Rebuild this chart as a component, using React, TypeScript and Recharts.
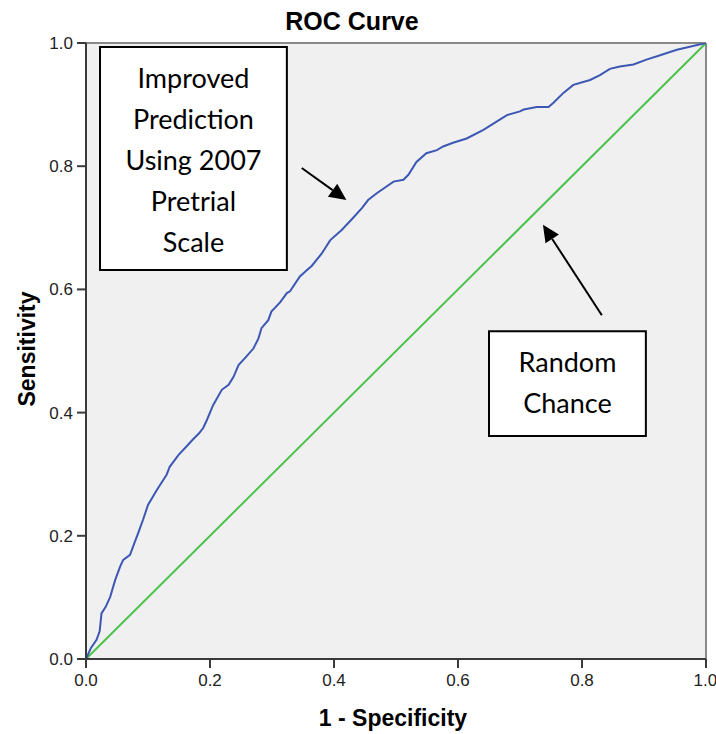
import React from 'react';
import {
  LineChart,
  Line,
  XAxis,
  YAxis,
  CartesianGrid,
  ReferenceArea,
  ReferenceLine,
  Label,
} from 'recharts';

// 1 - Specificity (false positive rate)
const fpr = [
  0, 0.008, 0.017, 0.022, 0.025, 0.032, 0.039, 0.047, 0.055, 0.06, 0.071, 0.078, 0.084, 0.092,
  0.1, 0.114, 0.13, 0.135, 0.149, 0.162, 0.172, 0.182, 0.189, 0.195, 0.205, 0.219, 0.23, 0.238,
  0.246, 0.256, 0.27, 0.278, 0.283, 0.294, 0.299, 0.313, 0.324, 0.329, 0.345, 0.356, 0.364, 0.38,
  0.394, 0.412, 0.428, 0.445, 0.455, 0.469, 0.496, 0.512, 0.52, 0.533, 0.549, 0.566, 0.576, 0.592,
  0.614, 0.641, 0.668, 0.679, 0.7, 0.706, 0.727, 0.746, 0.754, 0.77, 0.786, 0.813, 0.829, 0.845,
  0.861, 0.883, 0.904, 0.926, 0.953, 1,
];
// Sensitivity (true positive rate)
const tpr = [
  0, 0.018, 0.031, 0.045, 0.074, 0.085, 0.101, 0.128, 0.15, 0.161, 0.169, 0.188, 0.204, 0.226,
  0.25, 0.274, 0.299, 0.312, 0.331, 0.345, 0.356, 0.366, 0.375, 0.388, 0.412, 0.437, 0.445, 0.458,
  0.477, 0.488, 0.504, 0.52, 0.537, 0.55, 0.564, 0.579, 0.594, 0.597, 0.621, 0.631, 0.638, 0.658,
  0.68, 0.696, 0.713, 0.732, 0.745, 0.756, 0.775, 0.778, 0.786, 0.807, 0.821, 0.826, 0.832, 0.838,
  0.845, 0.859, 0.876, 0.883, 0.889, 0.892, 0.896, 0.896, 0.903, 0.919, 0.932, 0.94, 0.948, 0.958,
  0.962, 0.965, 0.973, 0.98, 0.989, 1,
];
const chanceX = [0, 1];
const chanceY = [0, 1];
const axisTicks = [0, 0.2, 0.4, 0.6, 0.8, 1.0];

const titleText = 'ROC Curve';
const xTitle = '1 - Specificity';
const yTitle = 'Sensitivity';
const box1Lines = ['Improved', 'Prediction', 'Using 2007', 'Pretrial', 'Scale'];
const box2Lines = ['Random', 'Chance'];

const rocData = fpr.map((x, i) => ({ x, y: tpr[i] }));
const chanceData = chanceX.map((x, i) => ({ x, y: chanceY[i] }));

const AXIS_FONT = '"Liberation Sans", Arial, sans-serif';
const BOX_FONT = 'Lato, "Open Sans", sans-serif';

const BoxLabel = (props: any) => {
  const { viewBox, lines } = props;
  if (!viewBox) return null;
  const cx = viewBox.x + viewBox.width / 2;
  return (
    <g>
      {lines.map((t: string, i: number) => (
        <text
          key={i}
          x={cx}
          y={viewBox.y + 30 + i * 41}
          textAnchor="middle"
          dominantBaseline="central"
          fontFamily={BOX_FONT}
          fontSize={27}
          fill="#000"
        >
          {t}
        </text>
      ))}
    </g>
  );
};

const Arrow = (props: any) => {
  const { x1, y1, x2, y2 } = props;
  if ([x1, y1, x2, y2].some((v) => typeof v !== 'number' || isNaN(v))) return null;
  const dx = x2 - x1;
  const dy = y2 - y1;
  const len = Math.sqrt(dx * dx + dy * dy);
  const ux = dx / len;
  const uy = dy / len;
  const hl = 17;
  const hw = 8;
  const bx = x2 - ux * hl;
  const by = y2 - uy * hl;
  const pts = `${x2},${y2} ${bx - uy * hw},${by + ux * hw} ${bx + uy * hw},${by - ux * hw}`;
  return (
    <g>
      <line x1={x1} y1={y1} x2={bx} y2={by} stroke="#000" strokeWidth={2} />
      <polygon points={pts} fill="#000" />
    </g>
  );
};

const XTitle = (props: any) => {
  const { viewBox } = props;
  if (!viewBox) return null;
  return (
    <text
      x={viewBox.x + viewBox.width / 2 - 3}
      y={viewBox.y + 59}
      textAnchor="middle"
      dominantBaseline="central"
      fontFamily={AXIS_FONT}
      fontWeight="bold"
      fontSize={23}
      fill="#000"
    >
      {xTitle}
    </text>
  );
};

const YTitle = (props: any) => {
  const { viewBox } = props;
  if (!viewBox) return null;
  const x = viewBox.x + 27;
  const y = viewBox.y + viewBox.height / 2 - 2;
  return (
    <text
      x={x}
      y={y}
      transform={`rotate(-90, ${x}, ${y})`}
      textAnchor="middle"
      dominantBaseline="central"
      fontFamily={AXIS_FONT}
      fontWeight="bold"
      fontSize={23}
      fill="#000"
    >
      {yTitle}
    </text>
  );
};

export default function App() {
  return (
    <div style={{ position: 'absolute', left: 0, top: 0, width: 716, height: 734, background: '#fff' }}>
      <div
        style={{
          position: 'absolute',
          left: 252,
          top: 6,
          width: 200,
          textAlign: 'center',
          fontFamily: AXIS_FONT,
          fontWeight: 'bold',
          fontSize: 25,
          lineHeight: '30px',
          color: '#000',
        }}
      >
        {titleText}
      </div>
      <LineChart
        width={716}
        height={734}
        margin={{ top: 43, right: 10, bottom: 0, left: 0 }}
        style={{ position: 'absolute', left: 0, top: 0 }}
      >
        <CartesianGrid fill="#f0f0f0" horizontal={false} vertical={false} />
        <XAxis
          type="number"
          dataKey="x"
          domain={[0, 1]}
          ticks={axisTicks}
          tickFormatter={(v: number) => v.toFixed(1)}
          height={75}
          axisLine={{ stroke: '#3a3a3a', strokeWidth: 2 }}
          tickLine={{ stroke: '#3a3a3a', strokeWidth: 2 }}
          tickSize={9}
          tickMargin={6}
          tick={{ fontFamily: AXIS_FONT, fontSize: 17, fill: '#222' }}
          allowDataOverflow
        >
          <Label content={<XTitle />} />
        </XAxis>
        <YAxis
          type="number"
          dataKey="y"
          domain={[0, 1]}
          ticks={axisTicks}
          tickFormatter={(v: number) => v.toFixed(1)}
          width={86}
          axisLine={{ stroke: '#3a3a3a', strokeWidth: 2 }}
          tickLine={{ stroke: '#3a3a3a', strokeWidth: 2 }}
          tickSize={9}
          tickMargin={4}
          tick={{ fontFamily: AXIS_FONT, fontSize: 17, fill: '#222' }}
          allowDataOverflow
        >
          <Label content={<YTitle />} />
        </YAxis>
        <ReferenceLine y={1} stroke="#8a8a8a" strokeWidth={2} ifOverflow="visible" />
        <ReferenceLine x={1} stroke="#8a8a8a" strokeWidth={2} ifOverflow="visible" />
        <Line
          data={chanceData}
          dataKey="y"
          type="linear"
          stroke="#4cc24c"
          strokeWidth={2}
          dot={false}
          isAnimationActive={false}
        />
        <Line
          data={rocData}
          dataKey="y"
          type="linear"
          stroke="#3c57b4"
          strokeWidth={2}
          dot={false}
          isAnimationActive={false}
        />
        <ReferenceArea
          x1={0.0226}
          x2={0.324}
          y1={0.6315}
          y2={0.9935}
          fill="#fff"
          fillOpacity={1}
          stroke="#000"
          strokeWidth={2}
          ifOverflow="visible"
          label={<BoxLabel lines={box1Lines} />}
        />
        <ReferenceArea
          x1={0.65}
          x2={0.903}
          y1={0.362}
          y2={0.532}
          fill="#fff"
          fillOpacity={1}
          stroke="#000"
          strokeWidth={2}
          ifOverflow="visible"
          label={<BoxLabel lines={box2Lines} />}
        />
        <ReferenceLine
          segment={[
            { x: 0.348, y: 0.797 },
            { x: 0.42, y: 0.745 },
          ]}
          ifOverflow="visible"
          shape={(p: any) => <Arrow {...p} />}
        />
        <ReferenceLine
          segment={[
            { x: 0.832, y: 0.558 },
            { x: 0.737, y: 0.705 },
          ]}
          ifOverflow="visible"
          shape={(p: any) => <Arrow {...p} />}
        />
      </LineChart>
    </div>
  );
}
